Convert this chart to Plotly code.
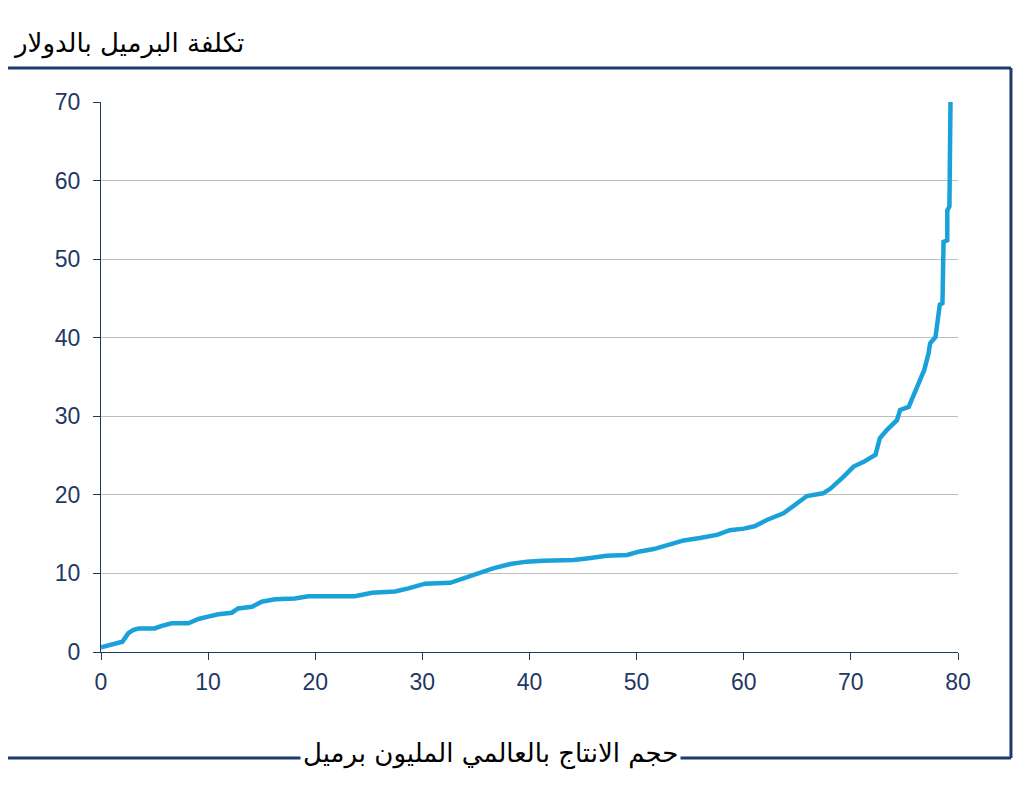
import plotly.graph_objects as go

# Cumulative world production (million barrels) vs cost per barrel (USD)
production = [0.0, 0.6, 1.6, 2.0, 2.55, 3.0, 3.5, 5.0, 5.6, 6.6, 8.15, 8.6, 9.1, 10.0, 10.95,
              12.2, 12.8, 14.1, 15.0, 16.25, 18.1, 19.35, 21.5, 23.7, 25.3, 26.5, 27.45,
              28.7, 29.8, 30.25, 32.6, 34.1, 35.3, 36.6, 38.2, 39.75, 41.3, 44.1, 45.35,
              47.2, 49.1, 50.3, 51.6, 52.8, 54.4, 55.9, 57.5, 58.7, 60.0, 61.0, 62.15,
              63.7, 64.95, 65.9, 67.4, 68.1, 69.3, 70.25, 71.2, 72.3, 72.7, 73.35, 74.3,
              74.6, 75.4, 75.8, 76.4, 76.85, 77.25, 77.4, 77.9, 78.1, 78.3, 78.55,
              78.55, 78.65, 79.0, 79.0, 79.2, 79.2, 79.3]
cost = [0.6, 0.8, 1.1, 1.3, 2.4, 2.8, 3.0, 3.0, 3.3, 3.65, 3.65, 3.9, 4.2, 4.5, 4.8,
        5.0, 5.55, 5.75, 6.4, 6.7, 6.8, 7.1, 7.1, 7.1, 7.55, 7.7, 7.7,
        8.1, 8.5, 8.7, 8.8, 9.5, 10.0, 10.65, 11.2, 11.5, 11.6, 11.7, 11.9,
        12.25, 12.35, 12.8, 13.1, 13.6, 14.2, 14.5, 14.9, 15.5, 15.7, 16.0, 16.8,
        17.65, 18.9, 19.85, 20.2, 20.8, 22.3, 23.6, 24.2, 25.1, 27.2, 28.25, 29.5,
        30.8, 31.2, 32.5, 34.6, 35.9, 38.0, 39.3, 40.1, 41.9, 44.2, 44.4,
        51.6, 52.2, 52.4, 56.2, 56.7, 65.2, 70.0]

x_ticks = [0, 10, 20, 30, 40, 50, 60, 70, 80]
y_ticks = [0, 10, 20, 30, 40, 50, 60, 70]

title_text = "تكلفة البرميل بالدولار"
xlabel_text = "حجم الانتاج بالعالمي المليون برميل"

navy = "#1F3864"
frame = "#1F3A6E"

fig = go.Figure()
fig.add_trace(go.Scatter(x=production, y=cost, mode="lines",
                         line=dict(color="#1BA1DA", width=4.5), showlegend=False,
                         hoverinfo="skip"))

tickfont = dict(family="Liberation Sans, Arial", size=23, color=navy)
fig.update_layout(
    width=1007, height=775,
    margin=dict(l=93, r=57, t=94, b=131),
    paper_bgcolor="white", plot_bgcolor="white",
    xaxis=dict(range=[0, 80], tickvals=x_ticks, showgrid=False, zeroline=False,
               showline=True, linecolor=navy, linewidth=1,
               ticks="outside", ticklen=7, tickcolor=navy,
               ticklabelstandoff=2, tickfont=tickfont),
    yaxis=dict(range=[0, 70], tickvals=y_ticks, showgrid=True, gridcolor="#BFBFBF",
               gridwidth=1, zeroline=False,
               showline=True, linecolor=navy, linewidth=1,
               ticks="outside", ticklen=7, tickcolor=navy,
               ticklabelstandoff=8, tickfont=tickfont),
)

# frame lines (top, right, bottom)
fig.add_shape(type="line", xref="paper", yref="paper", x0=-0.118, x1=1.0618, y0=1.0618, y1=1.0618,
              line=dict(color=frame, width=3))
fig.add_shape(type="line", xref="paper", yref="paper", x0=1.0618, x1=1.0618, y0=1.0618, y1=-0.1927,
              line=dict(color=frame, width=3))
fig.add_shape(type="line", xref="paper", yref="paper", x0=-0.118, x1=1.0618, y0=-0.1927, y1=-0.1927,
              line=dict(color=frame, width=3))

fig.add_annotation(text=title_text, xref="paper", yref="paper", x=-0.105, y=1.075,
                   xanchor="left", yanchor="bottom", showarrow=False,
                   font=dict(family="DejaVu Sans", size=26, color="black"))
fig.add_annotation(text=xlabel_text, xref="paper", yref="paper", x=0.455, y=-0.1837,
                   xanchor="center", yanchor="middle", showarrow=False, bgcolor="white",
                   borderpad=2,
                   font=dict(family="DejaVu Sans", size=26, color="black"))

fig.write_html("out.html")
